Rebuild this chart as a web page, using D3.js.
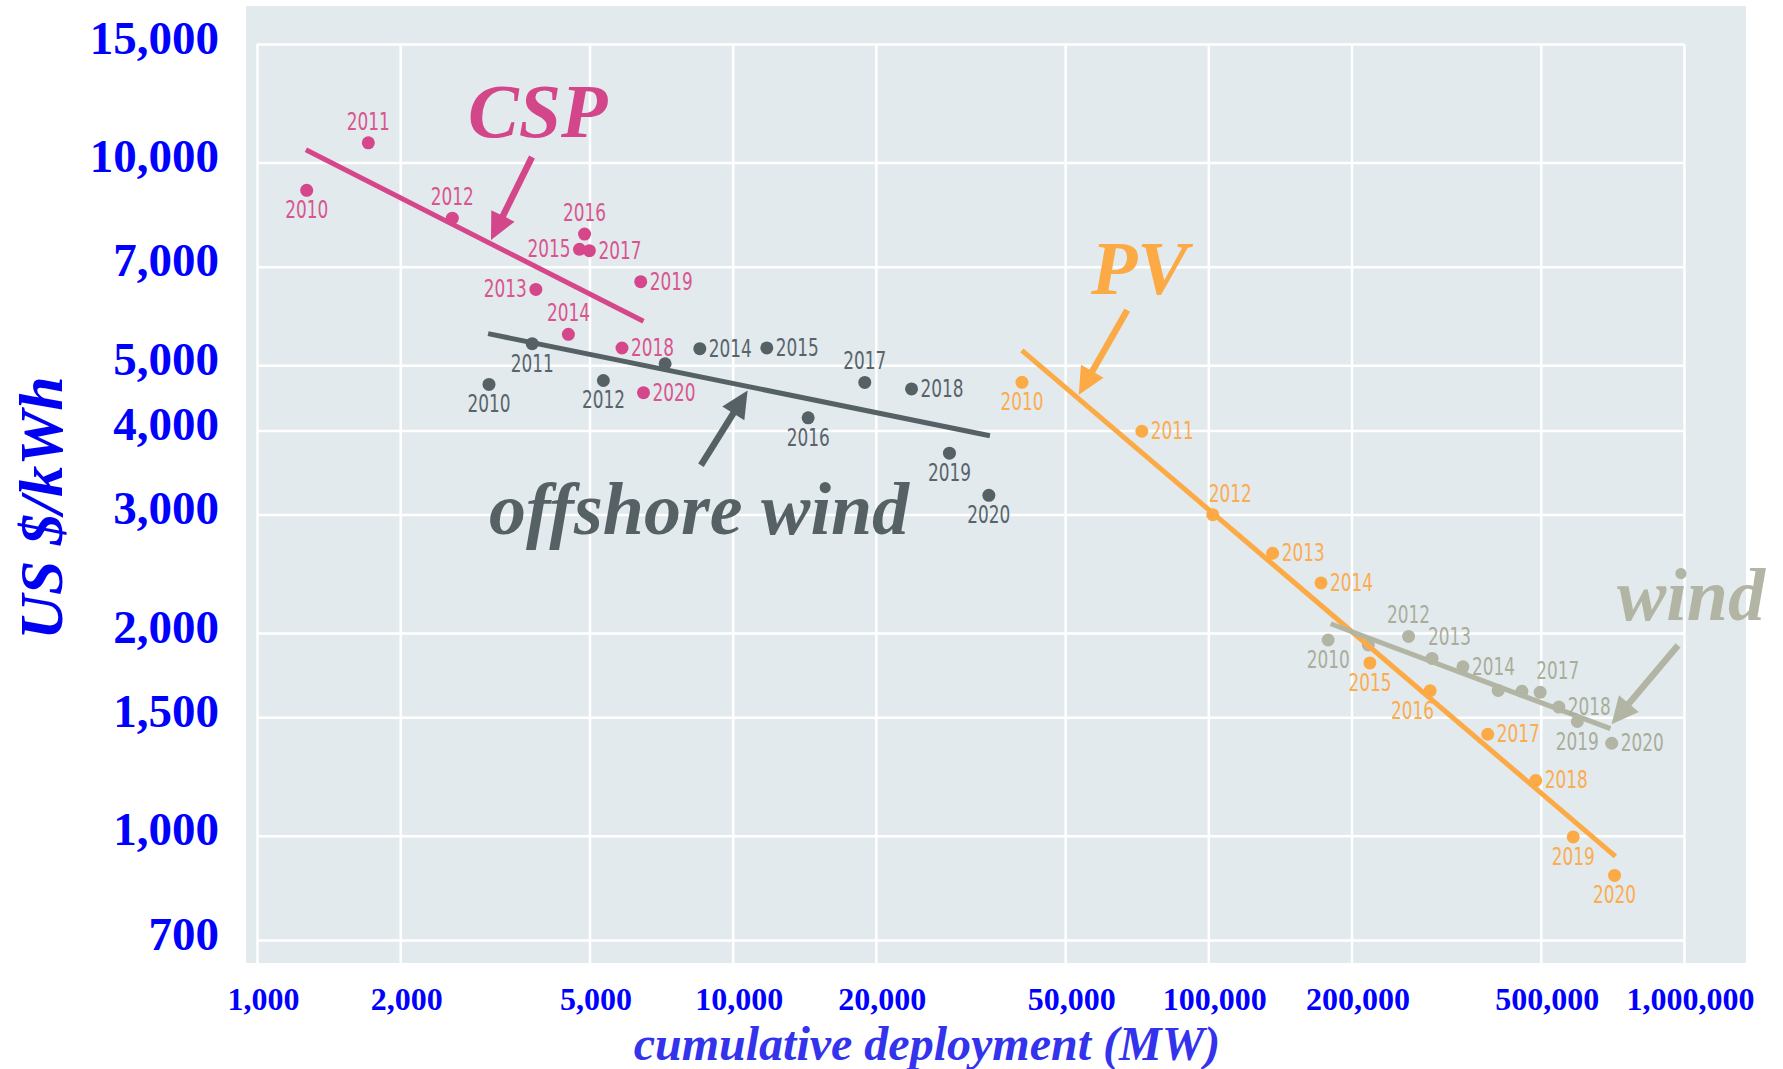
<!DOCTYPE html>
<html>
<head>
<meta charset="utf-8">
<script src="https://cdn.jsdelivr.net/npm/d3@7"></script>
<style>
  html, body { margin: 0; padding: 0; background: #fff; }
  svg { display: block; }
  .grid line { stroke: #fff; stroke-width: 2.5; }
  .grid .domain, .ticks .domain { display: none; }
  .ticks text { font-family: "Liberation Serif", "Times New Roman", serif; font-weight: bold; fill: #0000ff; }
  .yr { font-family: "DejaVu Sans Condensed", "DejaVu Sans", sans-serif; font-size: 24px; }
  .tag { font-family: "Liberation Serif", "Times New Roman", serif; font-weight: bold; font-style: italic; }
</style>
</head>
<body>
<div id="chart"></div>
<script>
// learning curves: cost (US$/kWh) vs cumulative deployment (MW), log-log
const years = [2010, 2011, 2012, 2013, 2014, 2015, 2016, 2017, 2018, 2019, 2020];

const cspMW   = [1272, 1714, 2574, 3857, 4515, 4764, 4882, 4998, 5853, 6408, 6494];
const cspCost = [9092, 10698, 8268, 6479, 5556, 7432, 7830, 7398, 5303, 6653, 4552];

const offMW   = [3074, 3789, 5348, 7211, 8530, 11797, 14411, 18955, 23770, 28560, 34560];
const offCost = [4681, 5382, 4745, 5025, 5290, 5305, 4176, 4714, 4610, 3701, 3204];

const pvMW    = [40570, 72480, 102160, 136520, 172550, 218600, 292600, 386700, 487900, 584900, 714500];
const pvCost  = [4716, 3989, 2999, 2628, 2374, 1806, 1642, 1415, 1208, 996, 873];

const windMW   = [178600, 216900, 263600, 295300, 343000, 406800, 456300, 498400, 545600, 596700, 704700];
const windCost = [1953, 1920, 1977, 1834, 1782, 1644, 1639, 1633, 1553, 1478, 1372];

// fitted trend lines, end points
const cspTrendMW    = [1267, 6494];
const cspTrendCost  = [10450, 5809];
const offTrendMW    = [3061, 34740];
const offTrendCost  = [5570, 3927];
const pvTrendMW     = [40550, 717300];
const pvTrendCost   = [5260, 932];
const windTrendMW   = [180800, 700300];
const windTrendCost = [2065, 1442];

const xTicks = [1000, 2000, 5000, 10000, 20000, 50000, 100000, 200000, 500000, 1000000];
const yTicks = [700, 1000, 1500, 2000, 3000, 4000, 5000, 7000, 10000, 15000];

(function () {
  const W = 1783, H = 1069;
  const panel = { x0: 246, x1: 1746, y0: 6, y1: 963 };

  const x = d3.scaleLog().domain([1000, 1e6]).range([257, 1684]);
  const y = d3.scaleLog().domain([700, 15000]).range([940, 44]);

  // where each year label sits relative to its dot ("" = no label)
  const place = {
    csp:  ["b", "t", "t", "l", "t", "l", "t", "r", "r", "r", "r"],
    off:  ["b", "b", "b", "", "r", "r", "b", "t", "r", "b", "b"],
    pv:   ["b", "r", "ts", "r", "r", "b", "be", "r", "r", "b", "b"],
    wind: ["b", "", "t", "ts", "r", "", "", "ts", "r", "b", "r"]
  };

  const series = {
    csp:  { mw: cspMW,  cost: cspCost,  tMW: cspTrendMW,  tCost: cspTrendCost,  color: "#d5478a", label: "#d9558f" },
    off:  { mw: offMW,  cost: offCost,  tMW: offTrendMW,  tCost: offTrendCost,  color: "#566166", label: "#58636a" },
    pv:   { mw: pvMW,   cost: pvCost,   tMW: pvTrendMW,   tCost: pvTrendCost,   color: "#fcaa45", label: "#fcac50" },
    wind: { mw: windMW, cost: windCost, tMW: windTrendMW, tCost: windTrendCost, color: "#b2b5a3", label: "#a9ad9b" }
  };

  const svg = d3.select("#chart").append("svg")
    .attr("width", W).attr("height", H).attr("viewBox", `0 0 ${W} ${H}`);

  svg.append("rect")
    .attr("x", panel.x0).attr("y", panel.y0)
    .attr("width", panel.x1 - panel.x0).attr("height", panel.y1 - panel.y0)
    .attr("fill", "#e2eaed");

  // grid
  svg.append("g").attr("class", "grid")
    .attr("transform", `translate(0,${panel.y1})`)
    .call(d3.axisBottom(x).tickValues(xTicks).tickFormat("").tickSizeOuter(0)
      .tickSize(-(panel.y1 - y(15000))));
  svg.append("g").attr("class", "grid")
    .attr("transform", `translate(${x(1000)},0)`)
    .call(d3.axisLeft(y).tickValues(yTicks).tickFormat("").tickSizeOuter(0)
      .tickSize(-(x(1e6) - x(1000))));

  // tick labels
  const fmt = d3.format(",");
  const xAx = svg.append("g").attr("class", "ticks")
    .attr("transform", "translate(6,987)")
    .call(d3.axisBottom(x).tickValues(xTicks).tickFormat(fmt).tickSize(0).tickPadding(0));
  xAx.selectAll("text").style("font-size", "32px");
  const yAx = svg.append("g").attr("class", "ticks")
    .attr("transform", "translate(219,-6)")
    .call(d3.axisLeft(y).tickValues(yTicks).tickFormat(fmt).tickSize(0).tickPadding(0));
  yAx.selectAll("text").style("font-size", "47px");

  // axis titles
  svg.append("text").attr("class", "tag")
    .attr("transform", "translate(62,508) rotate(-90)")
    .attr("text-anchor", "middle")
    .style("font-size", "62px").attr("fill", "#0000f2")
    .text("US $/kWh");
  svg.append("text").attr("class", "tag")
    .attr("x", 927).attr("y", 1060)
    .attr("text-anchor", "middle")
    .style("font-size", "48px").attr("fill", "#3333ee")
    .text("cumulative deployment (MW)");

  const gMarks = svg.append("g");
  const gLabels = svg.append("g");

  function trend(key) {
    const s = series[key];
    gMarks.append("line")
      .attr("x1", x(s.tMW[0])).attr("y1", y(s.tCost[0]))
      .attr("x2", x(s.tMW[1])).attr("y2", y(s.tCost[1]))
      .attr("stroke", s.color).attr("stroke-width", 5);
  }
  function dots(key) {
    const s = series[key];
    gMarks.append("g").selectAll("circle")
      .data(years.map((yr, i) => ({ yr, mw: s.mw[i], cost: s.cost[i] })))
      .join("circle")
      .attr("cx", (d) => x(d.mw)).attr("cy", (d) => y(d.cost))
      .attr("r", 6.5).attr("fill", s.color);
  }
  function labels(key) {
    const s = series[key];
    const rows = years.map((yr, i) => ({ yr, mw: s.mw[i], cost: s.cost[i], pos: place[key][i] }))
      .filter((d) => d.pos);
    gLabels.append("g").selectAll("text")
      .data(rows)
      .join("text")
      .attr("class", "yr")
      .attr("fill", s.label)
      .attr("textLength", 43)
      .attr("lengthAdjust", "spacingAndGlyphs")
      .each(function (d) {
        const px = x(d.mw), py = y(d.cost);
        let tx = px, ty = py, anchor = "middle";
        if (d.pos === "t") { ty = py - 13; }
        else if (d.pos === "b") { ty = py + 28; }
        else if (d.pos === "l") { tx = px - 9; ty = py + 8; anchor = "end"; }
        else if (d.pos === "r") { tx = px + 9; ty = py + 8; anchor = "start"; }
        else if (d.pos === "ts") { tx = px - 4; ty = py - 13; anchor = "start"; }
        else if (d.pos === "be") { tx = px + 4; ty = py + 28; anchor = "end"; }
        d3.select(this).attr("x", tx).attr("y", ty).attr("text-anchor", anchor);
      })
      .text((d) => d.yr);
  }

  // stacking as in the picture: wind dots sit under the PV line, wind line on top
  trend("off"); dots("off");
  trend("csp"); dots("csp");
  dots("wind");
  trend("pv"); dots("pv");
  trend("wind");
  ["csp", "off", "pv", "wind"].forEach(labels);

  // annotations (positions in data units)
  const tags = [
    { text: "CSP",           mw: 2777,   cost: 10912, size: 76, color: "#d3468a" },
    { text: "PV",            mw: 56640,  cost: 6376,  size: 76, color: "#fcaa45" },
    { text: "offshore wind", mw: 3074,   cost: 2804,  size: 74, color: "#566166" },
    { text: "wind",          mw: 722900, cost: 2089,  size: 74, color: "#b2b5a3" }
  ];
  svg.append("g").selectAll("text")
    .data(tags)
    .join("text")
    .attr("class", "tag")
    .attr("x", (d) => x(d.mw)).attr("y", (d) => y(d.cost))
    .style("font-size", (d) => d.size + "px")
    .attr("fill", (d) => d.color)
    .text((d) => d.text);

  const arrows = [
    { from: [3785, 10190],  to: [3104, 7670],   color: "#d3468a" },
    { from: [67530, 6036],  to: [53420, 4519],  color: "#fcaa45" },
    { from: [8577, 3551],   to: [10750, 4585],  color: "#566166" },
    { from: [971400, 1918], to: [704000, 1464], color: "#b2b5a3" }
  ];
  const gArrows = svg.append("g");
  arrows.forEach((a) => {
    const x1 = x(a.from[0]), y1 = y(a.from[1]);
    const x2 = x(a.to[0]), y2 = y(a.to[1]);
    const ang = Math.atan2(y2 - y1, x2 - x1);
    const headLen = 27, headW = 13;
    const bx = x2 - headLen * Math.cos(ang), by = y2 - headLen * Math.sin(ang);
    gArrows.append("line")
      .attr("x1", x1).attr("y1", y1).attr("x2", bx + 4 * Math.cos(ang)).attr("y2", by + 4 * Math.sin(ang))
      .attr("stroke", a.color).attr("stroke-width", 6.5);
    const px = -Math.sin(ang), py = Math.cos(ang);
    gArrows.append("path")
      .attr("d", `M${x2},${y2}L${bx + headW * px},${by + headW * py}L${bx - headW * px},${by - headW * py}Z`)
      .attr("fill", a.color);
  });
})();
</script>
</body>
</html>
